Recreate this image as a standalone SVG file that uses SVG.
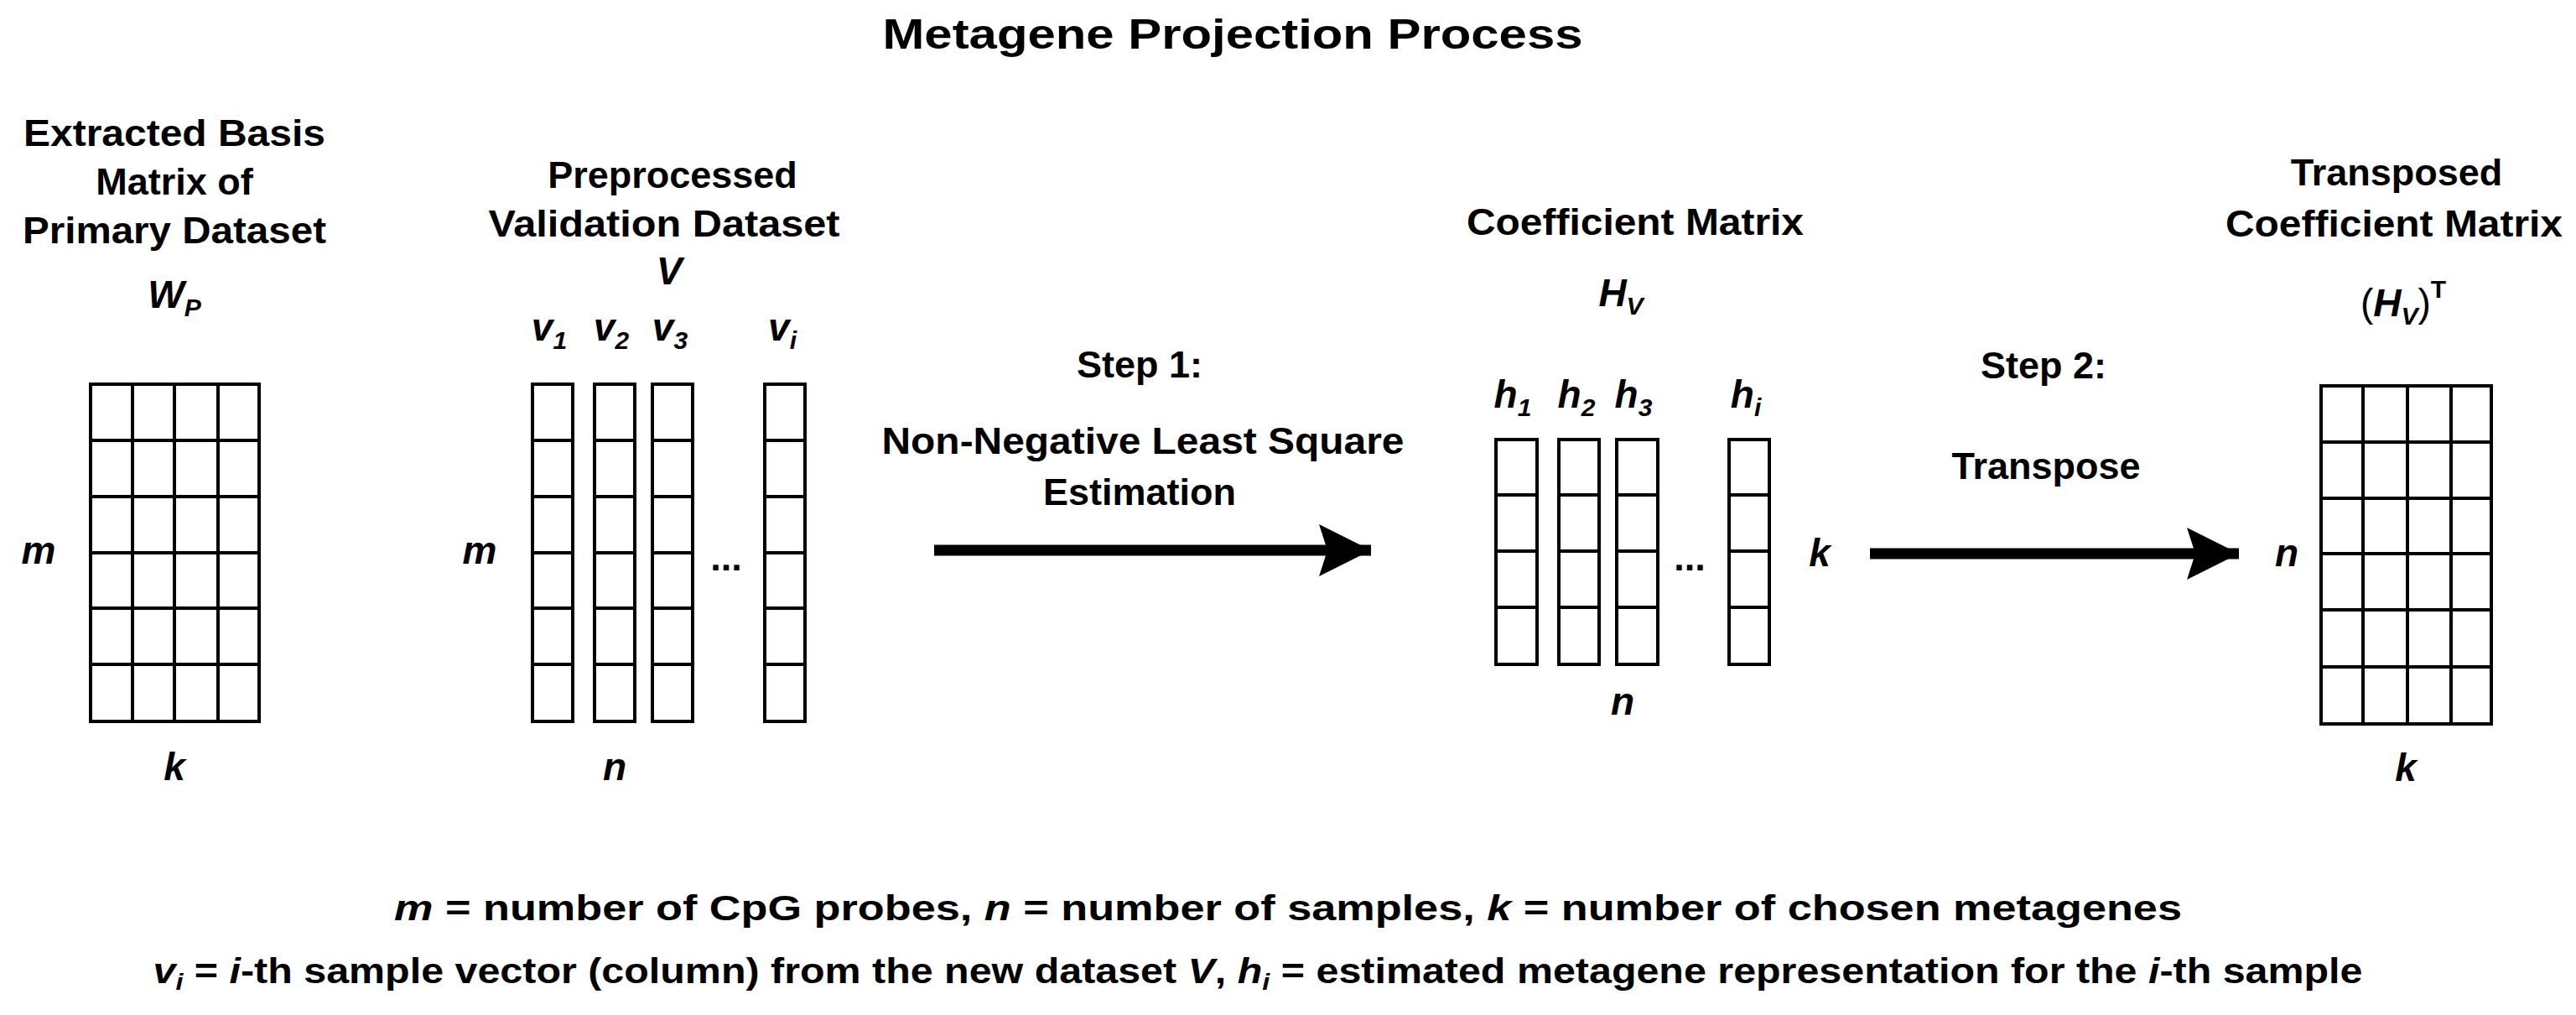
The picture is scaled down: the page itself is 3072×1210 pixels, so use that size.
<svg xmlns="http://www.w3.org/2000/svg" width="3072" height="1210" viewBox="0 0 3072 1210">
<style>
text{font-family:"Liberation Sans",Arial,sans-serif;font-weight:bold;fill:#000;text-anchor:middle}
.t{font-size:45px}
.h{font-size:50px}
.i{font-size:46px;font-style:italic}
.s{font-size:30px}
.f{font-size:42px}
.g{fill:#fff;stroke:#000;stroke-width:4}
.l{stroke:#000;stroke-width:4}
</style>
<defs>
<marker id="ah" markerUnits="userSpaceOnUse" markerWidth="64" markerHeight="62" refX="62" refY="31" orient="auto"><path d="M0,0 L62,31 L0,62 L10,31 Z" fill="#000"/></marker>
</defs>
<rect width="3072" height="1210" fill="#fff"/>
<text class="h" x="1470" y="58" textLength="835" lengthAdjust="spacingAndGlyphs">Metagene Projection Process</text>

<g id="wp">
<text class="t" x="208" y="174" textLength="360" lengthAdjust="spacingAndGlyphs">Extracted Basis</text>
<text class="t" x="208" y="232">Matrix of</text>
<text class="t" x="208" y="290" textLength="362" lengthAdjust="spacingAndGlyphs">Primary Dataset</text>
<text class="i" x="208" y="367">W<tspan class="s" dy="10">P</tspan></text>
<rect class="g" x="108" y="458" width="201" height="402"/>
<path class="l" d="M158,458V860M208,458V860M260,458V860M108,525H309M108,592H309M108,659H309M108,725H309M108,792H309"/>
<text class="i" x="46" y="672">m</text>
<text class="i" x="208" y="930">k</text>
</g>

<g id="v">
<text class="t" x="802" y="224">Preprocessed</text>
<text class="t" x="792" y="282" textLength="419" lengthAdjust="spacingAndGlyphs">Validation Dataset</text>
<text class="i" x="798" y="339">V</text>
<text class="i" x="655" y="406">v<tspan class="s" dy="10">1</tspan></text>
<text class="i" x="729" y="406">v<tspan class="s" dy="10">2</tspan></text>
<text class="i" x="799" y="406">v<tspan class="s" dy="10">3</tspan></text>
<text class="i" x="933" y="406">v<tspan class="s" dy="10">i</tspan></text>
<g class="g">
<rect x="635" y="458" width="48" height="402"/>
<rect x="709" y="458" width="48" height="402"/>
<rect x="778" y="458" width="48" height="402"/>
<rect x="912" y="458" width="48" height="402"/>
</g>
<path class="l" d="M635,525H683M635,592H683M635,659H683M635,725H683M635,792H683M709,525H757M709,592H757M709,659H757M709,725H757M709,792H757M778,525H826M778,592H826M778,659H826M778,725H826M778,792H826M912,525H960M912,592H960M912,659H960M912,725H960M912,792H960"/>
<text class="t" x="866" y="680">...</text>
<text class="i" x="572" y="672">m</text>
<text class="i" x="733" y="930">n</text>
</g>

<g id="step1">
<text class="t" x="1359" y="450">Step 1:</text>
<text class="t" x="1363" y="541" textLength="623" lengthAdjust="spacingAndGlyphs">Non-Negative Least Square</text>
<text class="t" x="1359" y="602">Estimation</text>
</g>

<g id="h">
<text class="t" x="1950" y="280" textLength="402" lengthAdjust="spacingAndGlyphs">Coefficient Matrix</text>
<text class="i" x="1933" y="365">H<tspan class="s" dy="10">V</tspan></text>
<text class="i" x="1804" y="486">h<tspan class="s" dy="10">1</tspan></text>
<text class="i" x="1880" y="486">h<tspan class="s" dy="10">2</tspan></text>
<text class="i" x="1948" y="486">h<tspan class="s" dy="10">3</tspan></text>
<text class="i" x="2082" y="486">h<tspan class="s" dy="10">i</tspan></text>
<g class="g">
<rect x="1784" y="524" width="49" height="268"/>
<rect x="1859" y="524" width="48" height="268"/>
<rect x="1928" y="524" width="49" height="268"/>
<rect x="2062" y="524" width="48" height="268"/>
</g>
<path class="l" d="M1784,590H1833M1784,657H1833M1784,724H1833M1859,590H1907M1859,657H1907M1859,724H1907M1928,590H1977M1928,657H1977M1928,724H1977M2062,590H2110M2062,657H2110M2062,724H2110"/>
<text class="t" x="2015" y="680">...</text>
<text class="i" x="2170" y="675">k</text>
<text class="i" x="1935" y="852">n</text>
</g>

<g id="step2">
<text class="t" x="2437" y="451">Step 2:</text>
<text class="t" x="2440" y="571">Transpose</text>
</g>

<g id="ht">
<text class="t" x="2858" y="221">Transposed</text>
<text class="t" x="2855" y="282" textLength="402" lengthAdjust="spacingAndGlyphs">Coefficient Matrix</text>
<text class="i" x="2866" y="377"><tspan font-style="normal" font-weight="normal">(</tspan>H<tspan class="s" dy="10">V</tspan><tspan font-style="normal" font-weight="normal" dy="-10">)</tspan><tspan class="s" font-style="normal" dy="-22">T</tspan></text>
<rect class="g" x="2768" y="460" width="203" height="403"/>
<path class="l" d="M2818,460V863M2871,460V863M2923,460V863M2768,527H2971M2768,594H2971M2768,660H2971M2768,727H2971M2768,795H2971"/>
<text class="i" x="2727" y="675">n</text>
<text class="i" x="2869" y="931">k</text>
</g>

<g id="connectors">
<line x1="1114" y1="656" x2="1635" y2="656" stroke="#000" stroke-width="13" marker-end="url(#ah)"/>
<line x1="2230" y1="660" x2="2670" y2="660" stroke="#000" stroke-width="13" marker-end="url(#ah)"/>
</g>

<g id="legend">
<text class="f" x="1536" y="1097" textLength="2132" lengthAdjust="spacingAndGlyphs"><tspan font-style="italic">m</tspan> = number of CpG probes, <tspan font-style="italic">n</tspan> = number of samples, <tspan font-style="italic">k</tspan> = number of chosen metagenes</text>
<text class="f" x="1500" y="1172" textLength="2635" lengthAdjust="spacingAndGlyphs"><tspan font-style="italic">v</tspan><tspan font-style="italic" font-size="28" dy="8">i</tspan><tspan dy="-8"> = </tspan><tspan font-style="italic">i</tspan>-th sample vector (column) from the new dataset <tspan font-style="italic">V</tspan>, <tspan font-style="italic">h</tspan><tspan font-style="italic" font-size="28" dy="8">i</tspan><tspan dy="-8"> = estimated metagene representation for the </tspan><tspan font-style="italic">i</tspan>-th sample</text>
</g>
</svg>
